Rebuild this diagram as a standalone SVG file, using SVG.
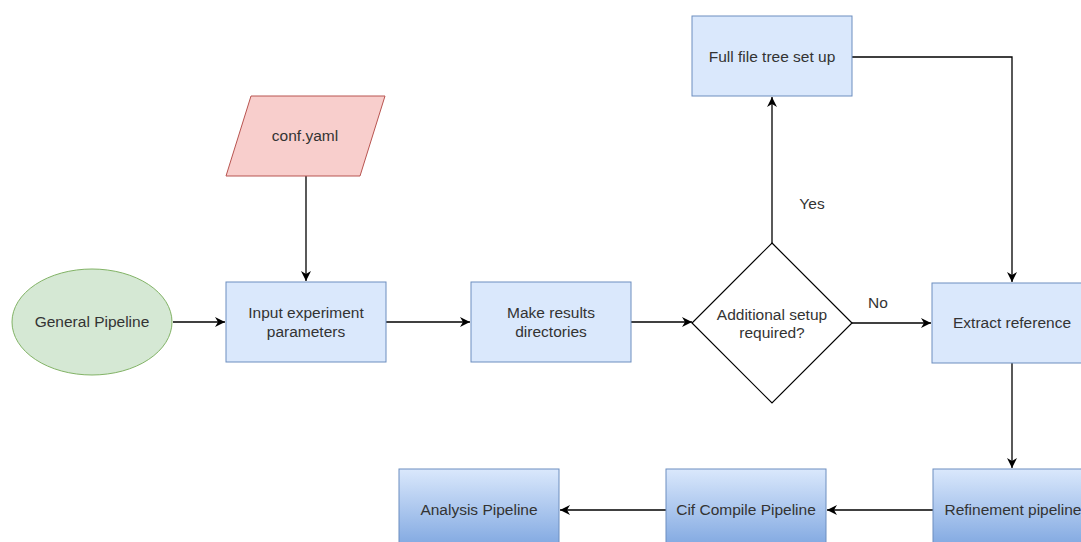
<svg xmlns="http://www.w3.org/2000/svg" width="1081" height="542" viewBox="0 0 1081 542">
<style>
.t{font-family:"Liberation Sans",Arial,sans-serif;font-size:15.5px;fill:#333;text-anchor:middle}
.box{fill:#dae8fc;stroke:#6c8ebf;stroke-width:1}
.gbox{fill:url(#g);stroke:#6c8ebf;stroke-width:1}
.c{fill:none;stroke:#000;stroke-width:1.3}
</style>
<defs>
<linearGradient id="g" x1="0" y1="0" x2="0" y2="1">
<stop offset="0" stop-color="#dae8fc"/>
<stop offset="1" stop-color="#7ea6e0"/>
</linearGradient>
<marker id="a" markerWidth="12" markerHeight="12" refX="10" refY="6" orient="auto" markerUnits="userSpaceOnUse">
<path d="M0,1 L10,6 L0,11 L3,6 Z" fill="#000"/>
</marker>
</defs>
<rect width="1081" height="542" fill="#fff"/>
<g id="connectors">
<path class="c" d="M173,322 H225" marker-end="url(#a)"/>
<path class="c" d="M306,176 V281" marker-end="url(#a)"/>
<path class="c" d="M386,322 H470" marker-end="url(#a)"/>
<path class="c" d="M631,322 H692" marker-end="url(#a)"/>
<path class="c" d="M772,243 V97" marker-end="url(#a)"/>
<path class="c" d="M852,323 H931" marker-end="url(#a)"/>
<path class="c" d="M852,57 H1012 V282" marker-end="url(#a)"/>
<path class="c" d="M1012,363 V468" marker-end="url(#a)"/>
<path class="c" d="M933,510 H827" marker-end="url(#a)"/>
<path class="c" d="M666,510 H560" marker-end="url(#a)"/>
<text class="t" x="812" y="209">Yes</text>
<text class="t" x="878" y="308">No</text>
</g>
<g id="general">
<ellipse cx="92" cy="322" rx="80" ry="53" fill="#d5e8d4" stroke="#82b366"/>
<text class="t" x="92" y="327">General Pipeline</text>
</g>
<g id="conf">
<polygon points="251,96 385,96 360,176 226,176" fill="#f8cecc" stroke="#b85450"/>
<text class="t" x="305" y="141">conf.yaml</text>
</g>
<g id="input">
<rect class="box" x="226" y="282" width="160" height="80"/>
<text class="t" x="306" y="318">Input experiment</text>
<text class="t" x="306" y="337">parameters</text>
</g>
<g id="make">
<rect class="box" x="471" y="282" width="160" height="80"/>
<text class="t" x="551" y="318">Make results</text>
<text class="t" x="551" y="337">directories</text>
</g>
<g id="decision">
<polygon points="772,243 852,323 772,403 692,323" fill="#fff" stroke="#000" stroke-width="1.2"/>
<text class="t" x="772" y="320">Additional setup</text>
<text class="t" x="772" y="338">required?</text>
</g>
<g id="fulltree">
<rect class="box" x="692" y="16" width="160" height="80"/>
<text class="t" x="772" y="62">Full file tree set up</text>
</g>
<g id="extract">
<rect class="box" x="932" y="283" width="160" height="80"/>
<text class="t" x="1012" y="328">Extract reference</text>
</g>
<g id="refine">
<rect class="gbox" x="933" y="469" width="160" height="80"/>
<text class="t" x="1013" y="515">Refinement pipeline</text>
</g>
<g id="cif">
<rect class="gbox" x="666" y="469" width="160" height="80"/>
<text class="t" x="746" y="515">Cif Compile Pipeline</text>
</g>
<g id="analysis">
<rect class="gbox" x="399" y="469" width="160" height="80"/>
<text class="t" x="479" y="515">Analysis Pipeline</text>
</g>
</svg>
